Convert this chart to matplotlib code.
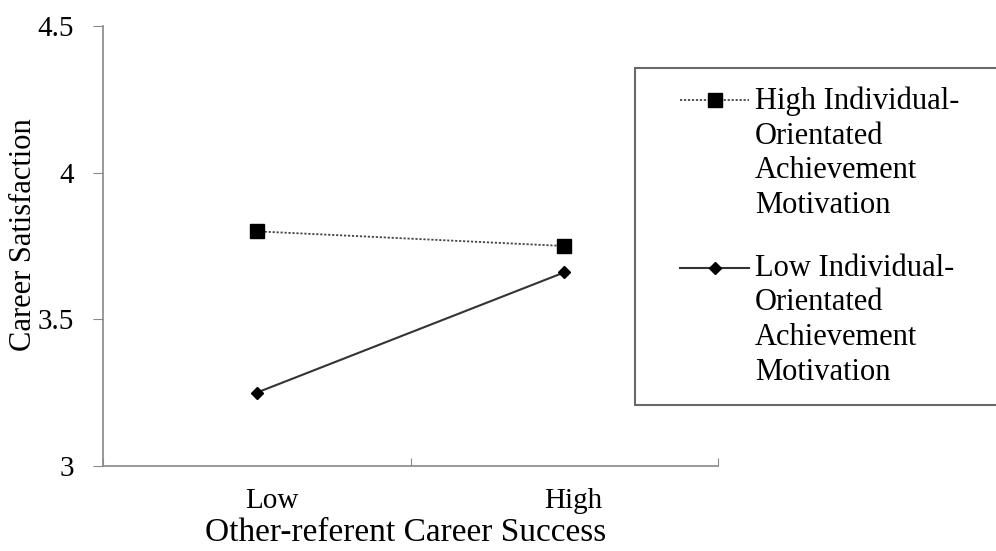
import matplotlib
matplotlib.use("Agg")
import matplotlib.pyplot as plt

plt.rcParams['font.family'] = ['Liberation Serif', 'DejaVu Serif']

categories = ["Low", "High"]
high_iam = [3.80, 3.75]
low_iam = [3.25, 3.66]
series_labels = ["High Individual-\nOrientated\nAchievement\nMotivation",
                 "Low Individual-\nOrientated\nAchievement\nMotivation"]
y_ticks = [3, 3.5, 4, 4.5]
y_tick_labels = ["3", "3.5", "4", "4.5"]

DPI = 100
fig = plt.figure(figsize=(9.96, 5.51), dpi=DPI)
ax = fig.add_axes([0.1034, 0.1543, 0.6175, 0.7985])

xpos = [0.5, 1.5]
l1, = ax.plot(xpos, high_iam, color='#444444', linestyle=(0, (1.2, 1.0)), linewidth=1.3,
              marker='s', markersize=9.5, markerfacecolor='black', markeredgecolor='black')
l2, = ax.plot(xpos, low_iam, color='#333333', linestyle='-', linewidth=1.5,
              marker='D', markersize=6.5, markerfacecolor='black', markeredgecolor='black')

ax.set_xlim(0, 2)
ax.set_ylim(3, 4.5)
ax.set_yticks(y_ticks)
ax.set_yticklabels(y_tick_labels)
ax.set_xticks([0, 1, 2])
ax.set_xticklabels([])
ax.set_xticks([0.55, 1.53], minor=True)
ax.set_xticklabels(categories, minor=True)
ax.tick_params(axis='x', which='minor', length=0, pad=16, labelsize=21)
ax.tick_params(axis='x', which='major', length=6, direction='in', color='#888888')
ax.tick_params(axis='y', length=7, direction='out', pad=14, labelsize=21, color='#888888')

for s in ['top', 'right']:
    ax.spines[s].set_visible(False)
for s in ['left', 'bottom']:
    ax.spines[s].set_color('#888888')
    ax.spines[s].set_linewidth(1.2)

ax.set_ylabel("Career Satisfaction", fontsize=22, va='center')
ax.yaxis.set_label_coords(-0.13, 0.525)
fig.text(0.407, 0.018, "Other-referent Career Success", fontsize=24,
         ha='center', va='baseline')

FS = 22
leg = ax.legend([l1, l2], series_labels, loc='upper left', mode='expand',
                bbox_to_anchor=(0.6376, 0.8766 - 0.5, 0.40, 0.5),
                bbox_transform=fig.transFigure,
                fontsize=FS, frameon=True, fancybox=False, edgecolor='#444444',
                handlelength=3.2, handletextpad=0.13, labelspacing=1.1,
                borderpad=0.6, borderaxespad=0)
leg.get_frame().set_linewidth(1.5)
for t in leg.get_texts():
    t.set_linespacing(1.26)

fig.canvas.draw()
renderer = fig.canvas.get_renderer()
inv_scale = 72.0 / DPI
for h, t in zip(leg.legend_handles, leg.get_texts()):
    bb = t.get_window_extent(renderer)
    target_y = bb.y1 - 14
    xd = list(h.get_xdata())
    yd = list(h.get_ydata())
    tr = h.get_transform()
    cur = tr.transform((xd[1], yd[1]))
    dy = (target_y - cur[1]) * inv_scale
    h.set_ydata([y + dy for y in yd])
    x_start_px = 680
    x_end_px = bb.x0 - 6
    x0 = tr.inverted().transform((x_start_px, cur[1]))[0]
    x1 = tr.inverted().transform((x_end_px, cur[1]))[0]
    h.set_xdata([x0, (x0 + x1) / 2, x1])

fig.savefig("out.png", dpi=DPI)
